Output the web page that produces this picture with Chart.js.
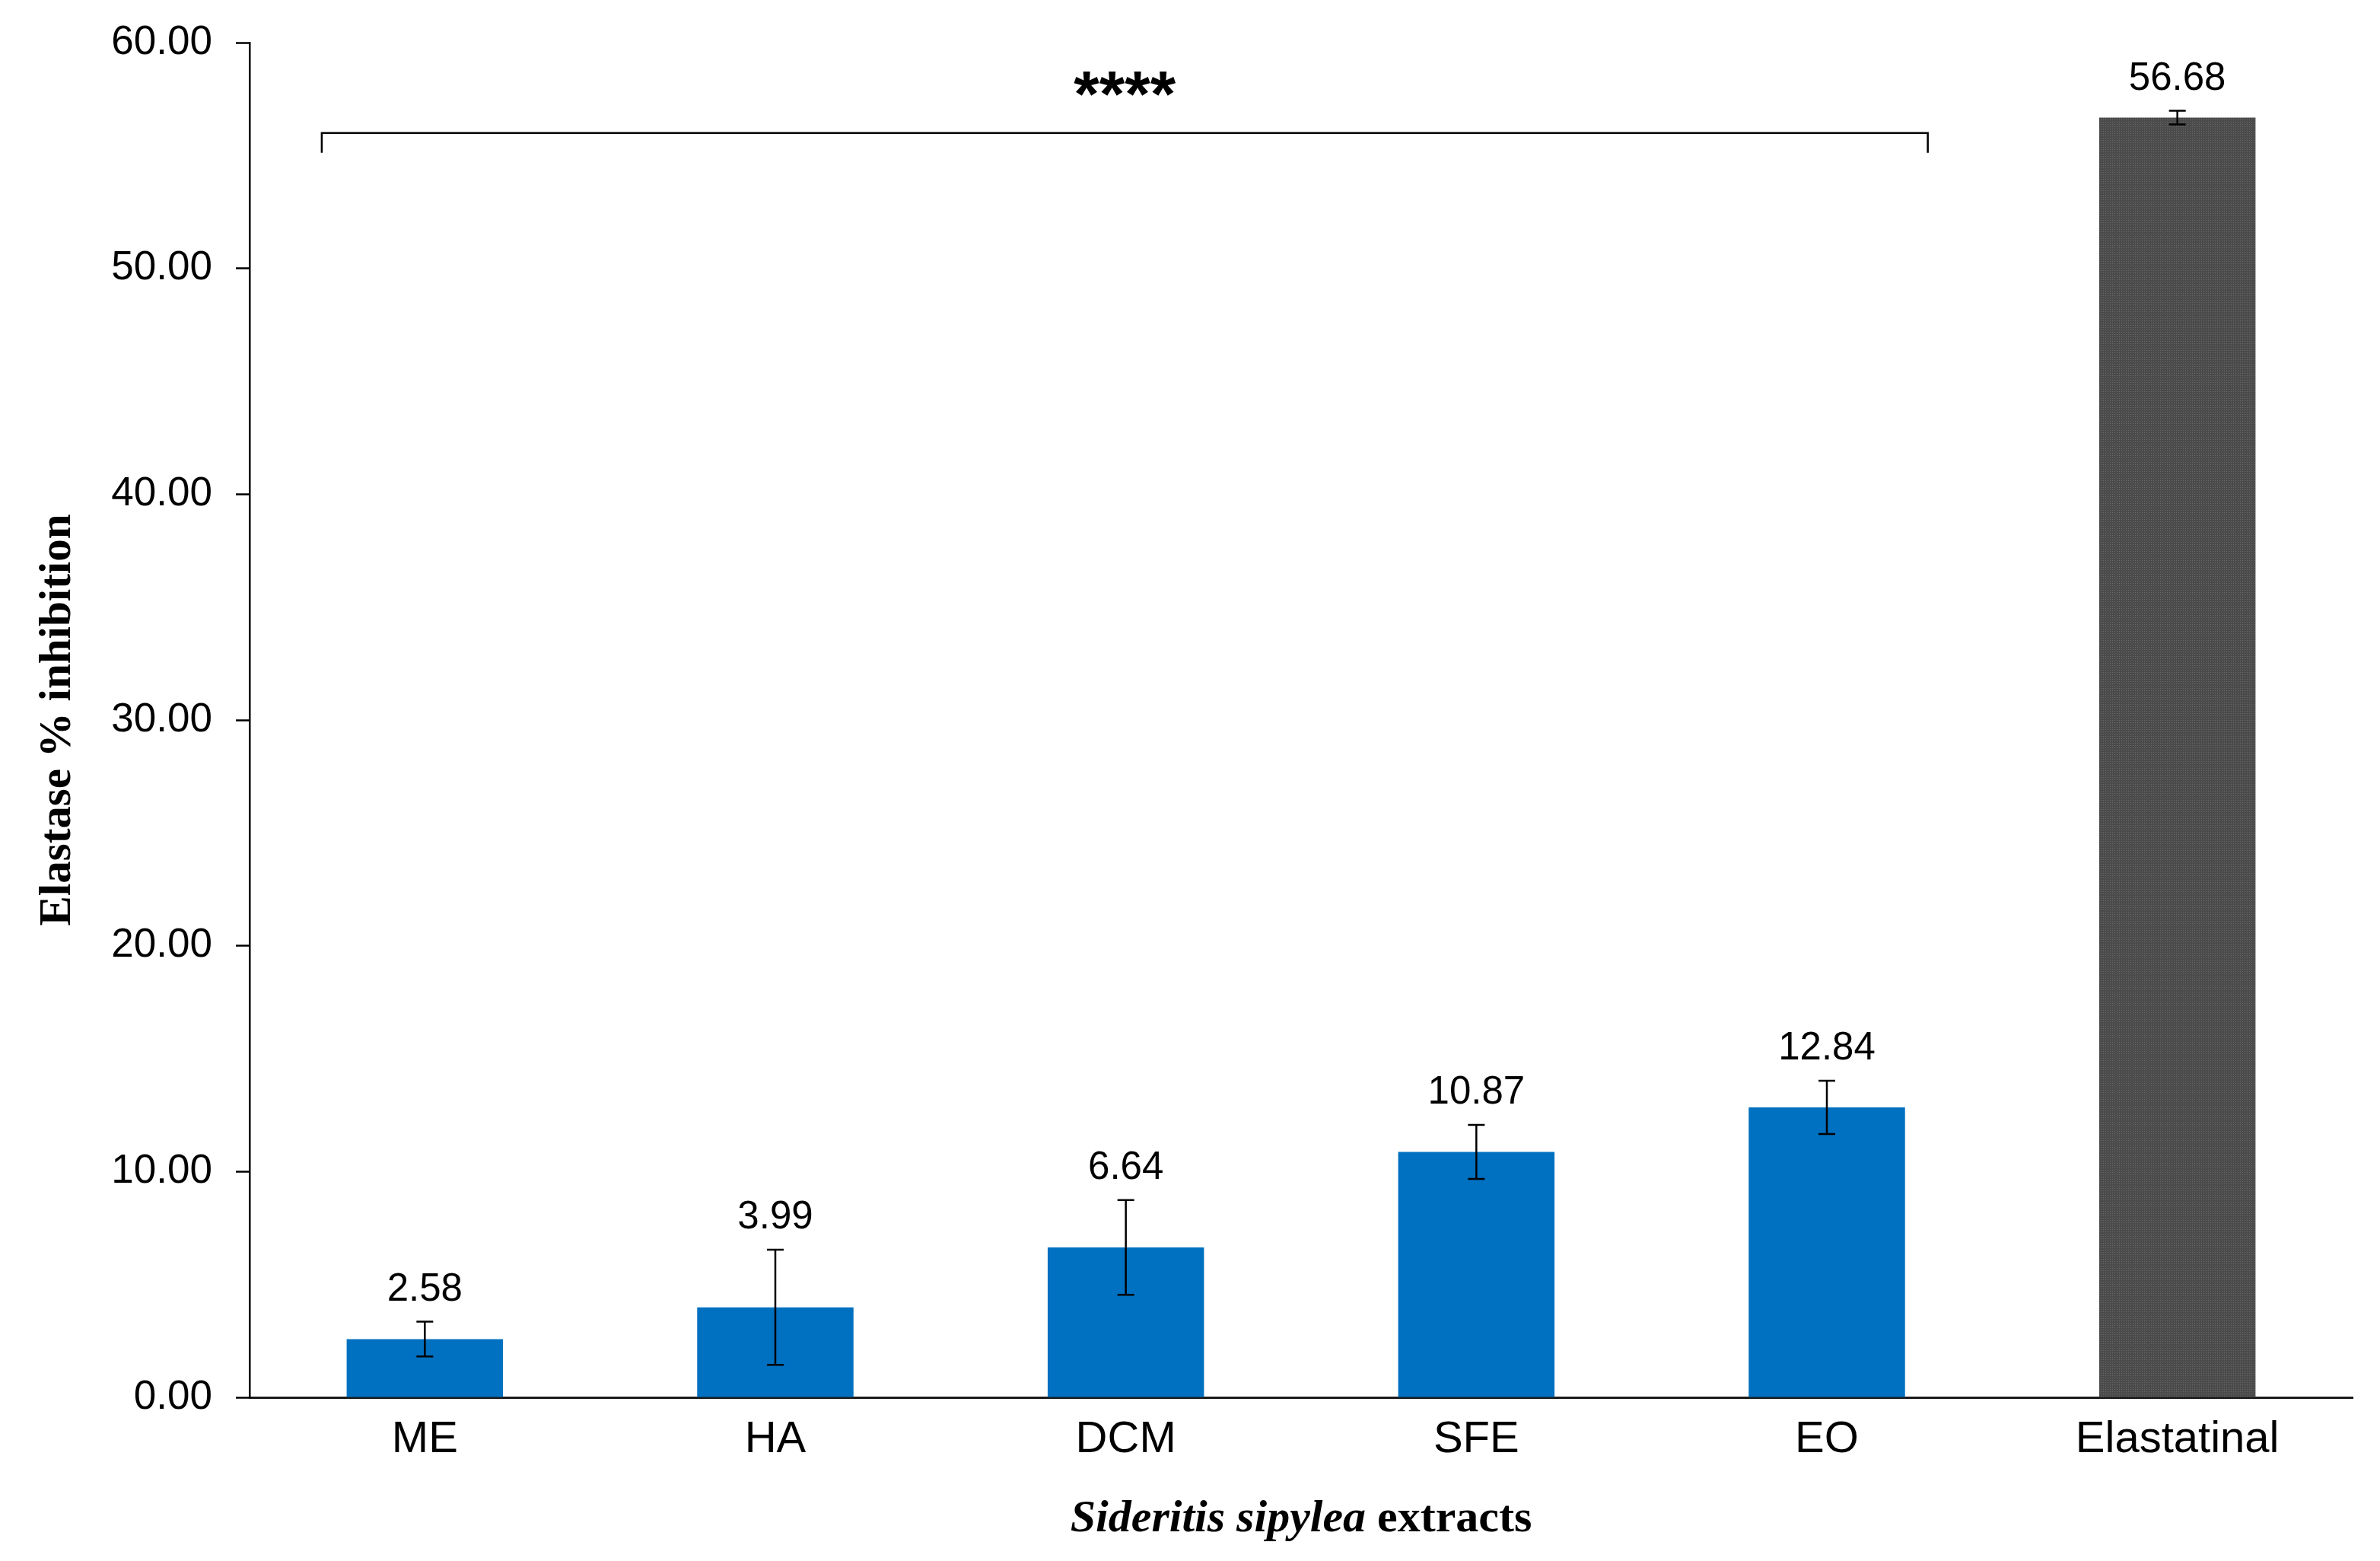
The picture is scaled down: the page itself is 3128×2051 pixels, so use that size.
<!DOCTYPE html>
<html>
<head>
<meta charset="utf-8">
<script src="https://cdn.jsdelivr.net/npm/chart.js@4"></script>
<style>
  html, body { margin: 0; padding: 0; background: #fff; }
  #chart { display: block; }
</style>
</head>
<body>
<canvas id="chart" width="3128" height="2051" style="width:3128px;height:2051px"></canvas>
<script>
// values
const categories = ['ME', 'HA', 'DCM', 'SFE', 'EO', 'Elastatinal'];
const inhibition = [2.58, 3.99, 6.64, 10.87, 12.84, 56.68];
const errors = [0.77, 2.55, 2.1, 1.2, 1.18, 0.3];
const yMin = 0;
const yMax = 60;
const yStep = 10;
const signifText = '****';
const signifFrom = 0;   // ME
const signifTo = 4;     // EO
const signifLevel = 56.0;

const SANS = "'Liberation Sans', Arial, sans-serif";
const SERIF = "'Liberation Serif', 'Times New Roman', serif";

// dotted dark grey fill for the reference bar
function dotPattern() {
  const c = document.createElement('canvas');
  c.width = 3; c.height = 3;
  const g = c.getContext('2d');
  g.fillStyle = '#4b4b4b';
  g.fillRect(0, 0, 3, 3);
  g.fillStyle = '#6c6c6c';
  g.fillRect(1, 1, 1, 1);
  return g.createPattern(c, 'repeat');
}
const ctx = document.getElementById('chart').getContext('2d');
const barColors = categories.map((c, i) => i === categories.length - 1 ? dotPattern() : '#0070C0');

// error bars, value labels, significance bracket, x title
const extrasPlugin = {
  id: 'extras',
  afterDatasetsDraw(chart) {
    const g = chart.ctx;
    const x = chart.scales.x, y = chart.scales.y;
    const meta = chart.getDatasetMeta(0);
    g.save();
    g.strokeStyle = '#000';
    g.lineWidth = 2.5;
    meta.data.forEach((bar, i) => {
      const cx = bar.x;
      const top = y.getPixelForValue(inhibition[i] + errors[i]);
      const bot = y.getPixelForValue(inhibition[i] - errors[i]);
      g.beginPath();
      g.moveTo(cx, top); g.lineTo(cx, bot);
      g.moveTo(cx - 11, top); g.lineTo(cx + 11, top);
      g.moveTo(cx - 11, bot); g.lineTo(cx + 11, bot);
      g.stroke();
      g.fillStyle = '#000';
      g.font = '51px ' + SANS;
      g.textAlign = 'center';
      g.textBaseline = 'alphabetic';
      g.fillText(inhibition[i].toFixed(2), cx, top - 28);
    });

    // bracket over the extracts
    const half = x.getPixelForValue(1) - x.getPixelForValue(0);
    const bx1 = x.getPixelForValue(signifFrom) - 0.294 * half;
    const bx2 = x.getPixelForValue(signifTo) + 0.288 * half;
    const by = y.getPixelForValue(signifLevel);
    g.lineWidth = 2.5;
    g.beginPath();
    g.moveTo(bx1, by + 26); g.lineTo(bx1, by); g.lineTo(bx2, by); g.lineTo(bx2, by + 26);
    g.stroke();
    g.font = 'bold 86px ' + SANS;
    g.textAlign = 'center';
    g.fillText(signifText, (bx1 + bx2) / 2, by - 22);

    // x-axis title with mixed styles
    const a = {ch: ['Sideritis sipylea', ' extracts'], f: ['italic bold 60px ' + SERIF, 'bold 60px ' + SERIF]};
    let widths = a.ch.map((t, k) => { g.font = a.f[k]; return g.measureText(t).width; });
    let tx = (chart.chartArea.left + chart.chartArea.right) / 2 - (widths[0] + widths[1]) / 2;
    g.textAlign = 'left';
    a.ch.forEach((t, k) => { g.font = a.f[k]; g.fillText(t, tx, 2012); tx += widths[k]; });
    g.restore();
  }
};

new Chart(ctx, {
  type: 'bar',
  data: {
    labels: categories,
    datasets: [{
      data: inhibition,
      backgroundColor: barColors,
      borderWidth: 0,
      categoryPercentage: 1.0,
      barPercentage: 0.446
    }]
  },
  options: {
    responsive: false,
    animation: false,
    devicePixelRatio: 1,
    layout: { padding: { left: 0, right: 36, top: 56, bottom: 0 } },
    plugins: { legend: { display: false }, tooltip: { enabled: false } },
    scales: {
      x: {
        afterFit(s) { s.height = 215; },
        grid: { display: true, drawOnChartArea: false, drawTicks: false },
        border: { display: true, color: '#1a1a1a', width: 3 },
        ticks: { color: '#000', font: { family: SANS, size: 58 }, padding: 21 }
      },
      y: {
        min: yMin,
        max: yMax,
        afterFit(s) { s.width = 328; s.paddingTop = 0; s.paddingBottom = 0; },
        grid: { display: true, drawOnChartArea: false, drawTicks: true, tickLength: 18, tickColor: '#000', tickWidth: 2.5 },
        border: { display: true, color: '#000', width: 2.5 },
        ticks: {
          stepSize: yStep,
          color: '#000',
          padding: 31,
          font: { family: SANS, size: 53, lineHeight: 1.0 },
          callback: v => v.toFixed(2)
        },
        title: {
          display: true,
          text: 'Elastase % inhibition',
          color: '#000',
          font: { family: SERIF, size: 59, weight: 'bold' },
          padding: { top: 41, bottom: 0 }
        }
      }
    }
  },
  plugins: [extrasPlugin]
});
</script>
</body>
</html>
